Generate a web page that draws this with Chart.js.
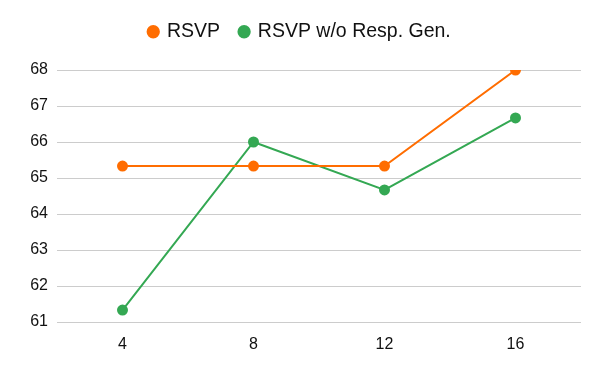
<!DOCTYPE html>
<html>
<head>
<meta charset="utf-8">
<script src="https://cdn.jsdelivr.net/npm/chart.js@4"></script>
<style>
  html, body { margin: 0; padding: 0; background: #fff; }
  #wrap { width: 600px; height: 371px; }
</style>
</head>
<body>
<div id="wrap"><canvas id="chart"></canvas></div>
<script>
// data
const categories = ['4', '8', '12', '16'];
const rsvp = [65.33, 65.33, 65.33, 68];
const rsvpNoGen = [61.33, 66, 64.67, 66.67];
const yMin = 61;
const yMax = 68;

const ORANGE = '#ff6d01';
const GREEN = '#34a853';
const FONT = 'Liberation Sans, Arial, sans-serif';
const RIGHT_PAD = 19;

// keep the plot top where the reference has it, and centre the legend on the whole canvas
const legendFix = {
    id: 'legendFix',
    beforeInit(chart) {
        const fit = chart.legend.fit;
        chart.legend.fit = function () {
            fit.call(this);
            this.height = 68;
        };
    },
    afterLayout(chart) {
        chart.legend.right += RIGHT_PAD;
    }
};

new Chart(document.getElementById('chart'), {
    type: 'line',
    data: {
        labels: categories,
        datasets: [
            {
                label: 'RSVP',
                data: rsvp,
                borderColor: ORANGE,
                backgroundColor: ORANGE,
                borderWidth: 2,
                pointRadius: 4.5,
                pointHoverRadius: 4.5,
                tension: 0
            },
            {
                label: 'RSVP w/o Resp. Gen.',
                data: rsvpNoGen,
                borderColor: GREEN,
                backgroundColor: GREEN,
                borderWidth: 2,
                pointRadius: 4.5,
                pointHoverRadius: 4.5,
                tension: 0
            }
        ]
    },
    options: {
        responsive: true,
        maintainAspectRatio: false,
        animation: false,
        layout: { padding: { left: 0, right: RIGHT_PAD, top: 2, bottom: 0 } },
        plugins: {
            legend: {
                position: 'top',
                labels: {
                    usePointStyle: true,
                    pointStyle: 'circle',
                    boxWidth: 8,
                    boxHeight: 8,
                    padding: 20,
                    color: '#111',
                    font: { family: FONT, size: 19.5 }
                }
            },
            tooltip: { enabled: false }
        },
        scales: {
            x: {
                offset: true,
                grid: { display: false },
                border: { display: false },
                ticks: {
                    color: '#111',
                    padding: 5,
                    font: { family: FONT, size: 16 }
                },
                afterFit(scale) { scale.height = 49; }
            },
            y: {
                min: yMin,
                max: yMax,
                grid: { color: '#cccccc', drawTicks: false },
                border: { display: false },
                ticks: {
                    stepSize: 1,
                    color: '#111',
                    padding: 9,
                    font: { family: FONT, size: 16 }
                },
                afterFit(scale) { scale.width = 57; }
            }
        }
    },
    plugins: [legendFix]
});
</script>
</body>
</html>
